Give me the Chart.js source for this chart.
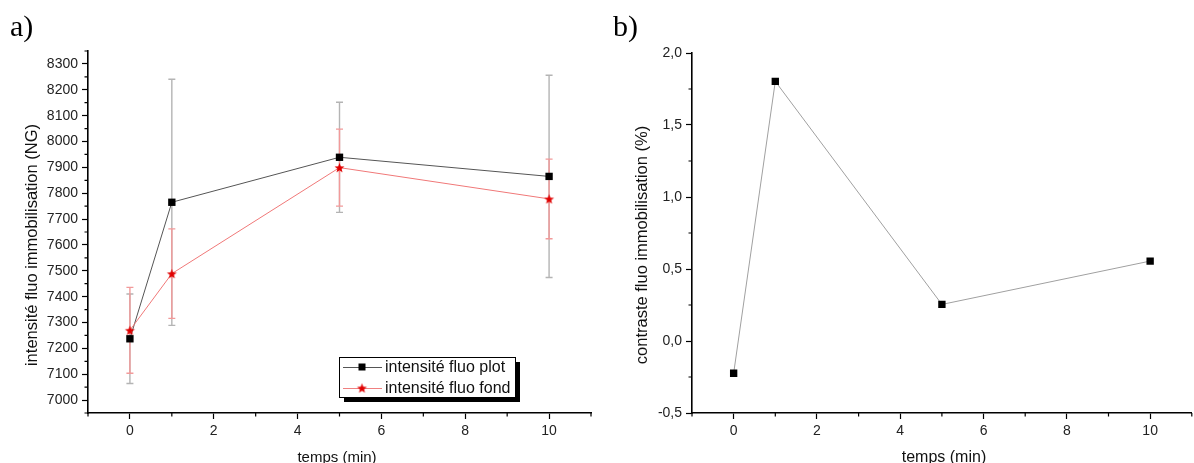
<!DOCTYPE html>
<html><head><meta charset="utf-8">
<script src="https://cdn.jsdelivr.net/npm/chart.js@4.4.0/dist/chart.umd.min.js"></script>
<style>
html,body{margin:0;padding:0;background:#fff;overflow:hidden;width:1194px;height:463px;position:relative;}
#wrapA{position:absolute;left:0;top:0;width:597px;height:463px;}
#wrapB{position:absolute;left:597px;top:0;width:600px;height:463px;}
.lab{position:absolute;font-family:"Liberation Serif","Times New Roman",serif;font-size:30px;line-height:30px;color:#000;z-index:5;}
</style></head><body>
<div id="wrapA"><canvas id="cA" width="597" height="463"></canvas></div>
<div id="wrapB"><canvas id="cB" width="600" height="463"></canvas></div>
<div class="lab" style="left:10px;top:11px">a)</div>
<div class="lab" style="left:613px;top:11px">b)</div>
<script>
// ---- data ----
const times = [0, 1, 5, 10];
const plotVals = [7237, 7765, 7939, 7865];
const plotErr = [173, 476, 213, 391];
const fondVals = [7270, 7489, 7899, 7778];
const fondErr = [166, 173, 149, 154];
const contrastVals = [-0.224, 1.803, 0.254, 0.555];
const xTickVals = [0, 2, 4, 6, 8, 10];
const xMinorVals = [-1, 1, 3, 5, 7, 9, 11];
const leftYTickVals = [7000, 7100, 7200, 7300, 7400, 7500, 7600, 7700, 7800, 7900, 8000, 8100, 8200, 8300];
const leftYMinorVals = [6950, 7050, 7150, 7250, 7350, 7450, 7550, 7650, 7750, 7850, 7950, 8050, 8150, 8250, 8350];
const rightYTickVals = [-0.5, 0, 0.5, 1, 1.5, 2];
const rightYMinorVals = [-0.25, 0.25, 0.75, 1.25, 1.75];
const legendLabels = ['intensité fluo plot', 'intensité fluo fond'];
const leftYTitle = 'intensité fluo immobilisation (NG)';
const rightYTitle = 'contraste fluo immobilisation (%)';
const xTitle = 'temps (min)';

Chart.defaults.font.family = "'Liberation Sans', Arial, sans-serif";
Chart.defaults.color = '#222';

function makeStar(r, color) {
  const s = Math.ceil(r * 2) + 2;
  const c = document.createElement('canvas');
  c.width = s; c.height = s;
  const g = c.getContext('2d');
  g.fillStyle = color;
  g.beginPath();
  for (let i = 0; i < 10; i++) {
    const rad = i % 2 ? r * 0.42 : r;
    const a = -Math.PI / 2 + i * Math.PI / 5;
    g.lineTo(s / 2 + rad * Math.cos(a), s / 2 + 0.5 + rad * Math.sin(a));
  }
  g.closePath();
  g.fill();
  return c;
}
const starImg = makeStar(5.2, '#e00000');

function xScaleOpts() {
  return {
    type: 'linear', min: -1, max: 11,
    afterBuildTicks: s => { s.ticks = xTickVals.map(v => ({ value: v })); },
    afterFit: s => { s.height = 50; },
    ticks: { autoSkip: false, maxRotation: 0, padding: 4, font: { size: 14 }, color: '#222',
      callback: v => String(v) },
    grid: { display: true, drawOnChartArea: false, drawTicks: true, tickLength: 6, tickColor: '#000', tickWidth: 1.2 },
    border: { display: true, color: '#000', width: 1.6 }
  };
}

function minorTicksPlugin(yMinor) {
  return {
    id: 'minorTicks',
    afterDraw(chart) {
      const ctx = chart.ctx, xs = chart.scales.x, ys = chart.scales.y, a = chart.chartArea;
      ctx.save();
      ctx.strokeStyle = '#000'; ctx.lineWidth = 1.2;
      ctx.beginPath();
      xMinorVals.forEach(v => {
        const px = xs.getPixelForValue(v);
        if (px < a.left - 0.5 || px > a.right + 0.5) return;
        ctx.moveTo(px, a.bottom); ctx.lineTo(px, a.bottom + 3.5);
      });
      yMinor.forEach(v => {
        const py = ys.getPixelForValue(v);
        if (py < a.top - 0.5 || py > a.bottom + 0.5) return;
        ctx.moveTo(a.left, py); ctx.lineTo(a.left - 3.5, py);
      });
      ctx.stroke();
      ctx.restore();
    }
  };
}

function titlesPlugin(yTitle, yX, xTitleCx, xSize) {
  return {
    id: 'titles',
    afterDraw(chart) {
      const ctx = chart.ctx;
      ctx.save();
      ctx.fillStyle = '#111';
      ctx.textAlign = 'center';
      ctx.textBaseline = 'alphabetic';
      ctx.font = "16.5px 'Liberation Sans', Arial, sans-serif";
      ctx.save();
      ctx.translate(yX, 245);
      ctx.rotate(-Math.PI / 2);
      ctx.fillText(yTitle, 0, 0);
      ctx.restore();
      ctx.font = xSize + "px 'Liberation Sans', Arial, sans-serif";
      ctx.fillText(xTitle, xTitleCx, 462);
      ctx.restore();
    }
  };
}

const errorBarsPlugin = {
  id: 'errorBars',
  beforeDatasetsDraw(chart) {
    const ctx = chart.ctx, xs = chart.scales.x, ys = chart.scales.y;
    const specs = [
      { vals: plotVals, errs: plotErr, color: '#b4b4b4' },
      { vals: fondVals, errs: fondErr, color: '#f29a9a' }
    ];
    ctx.save();
    specs.forEach(sp => {
      ctx.strokeStyle = sp.color; ctx.lineWidth = 1.4;
      ctx.beginPath();
      times.forEach((t, i) => {
        const px = xs.getPixelForValue(t);
        const top = ys.getPixelForValue(sp.vals[i] + sp.errs[i]);
        const bot = ys.getPixelForValue(sp.vals[i] - sp.errs[i]);
        ctx.moveTo(px, top); ctx.lineTo(px, bot);
        ctx.moveTo(px - 3.5, top); ctx.lineTo(px + 3.5, top);
        ctx.moveTo(px - 3.5, bot); ctx.lineTo(px + 3.5, bot);
      });
      ctx.stroke();
    });
    ctx.restore();
  }
};

const legendPlugin = {
  id: 'customLegend',
  afterDraw(chart) {
    const ctx = chart.ctx;
    const x = 339, y = 357, w = 176, h = 40;
    ctx.save();
    ctx.fillStyle = '#000';
    ctx.fillRect(x + 5, y + 5, w, h);
    ctx.fillStyle = '#fff';
    ctx.fillRect(x, y, w, h);
    ctx.strokeStyle = '#000'; ctx.lineWidth = 1;
    ctx.strokeRect(x + 0.5, y + 0.5, w, h);
    const rows = [
      { ly: 367, color: '#555', type: 'sq', label: legendLabels[0] },
      { ly: 388, color: '#f08080', type: 'star', label: legendLabels[1] }
    ];
    ctx.font = "16px 'Liberation Sans', Arial, sans-serif";
    ctx.textBaseline = 'middle';
    ctx.textAlign = 'left';
    rows.forEach(r => {
      ctx.strokeStyle = r.color; ctx.lineWidth = 1;
      ctx.beginPath(); ctx.moveTo(343, r.ly + 0.5); ctx.lineTo(382, r.ly + 0.5); ctx.stroke();
      if (r.type === 'sq') { ctx.fillStyle = '#000'; ctx.fillRect(362 - 3.5, r.ly - 3.5, 7, 7); }
      else { ctx.drawImage(starImg, 362 - starImg.width / 2, r.ly - starImg.height / 2); }
      ctx.fillStyle = '#111';
      ctx.fillText(r.label, 385, r.ly + 1);
    });
    ctx.restore();
  }
};

// ---- left chart ----
new Chart(document.getElementById('cA'), {
  type: 'line',
  data: {
    datasets: [
      { label: legendLabels[0], data: times.map((t, i) => ({ x: t, y: plotVals[i] })),
        borderColor: '#555', borderWidth: 1, pointStyle: 'rect', pointRadius: 5.2,
        pointBackgroundColor: '#000', pointBorderColor: '#000', pointBorderWidth: 0, order: 1, tension: 0 },
      { label: legendLabels[1], data: times.map((t, i) => ({ x: t, y: fondVals[i] })),
        borderColor: '#f07878', borderWidth: 1, pointStyle: starImg, pointRadius: 5,
        order: 0, tension: 0 }
    ]
  },
  options: {
    responsive: false, animation: false,
    layout: { padding: { left: 0, right: 4, top: 51, bottom: 0 } },
    plugins: { legend: { display: false }, tooltip: { enabled: false } },
    scales: {
      x: xScaleOpts(),
      y: {
        type: 'linear', min: 6950, max: 8350,
        afterBuildTicks: s => { s.ticks = leftYTickVals.map(v => ({ value: v })); },
        afterFit: s => { s.width = 88; },
        ticks: { autoSkip: false, padding: 4, font: { size: 14 }, color: '#222', callback: v => String(v) },
        grid: { display: true, drawOnChartArea: false, drawTicks: true, tickLength: 6, tickColor: '#000', tickWidth: 1.2 },
        border: { display: true, color: '#000', width: 1.6 }
      }
    }
  },
  plugins: [errorBarsPlugin, minorTicksPlugin(leftYMinorVals), titlesPlugin(leftYTitle, 36.5, 337, 15), legendPlugin]
});

// ---- right chart ----
new Chart(document.getElementById('cB'), {
  type: 'line',
  data: {
    datasets: [
      { label: 'contraste', data: times.map((t, i) => ({ x: t, y: contrastVals[i] })),
        borderColor: '#a0a0a0', borderWidth: 1, pointStyle: 'rect', pointRadius: 5.2,
        pointBackgroundColor: '#000', pointBorderColor: '#000', pointBorderWidth: 0, tension: 0 }
    ]
  },
  options: {
    responsive: false, animation: false,
    layout: { padding: { left: 0, right: 0, top: 53, bottom: 0 } },
    plugins: { legend: { display: false }, tooltip: { enabled: false } },
    scales: {
      x: xScaleOpts(),
      y: {
        type: 'linear', min: -0.5, max: 2.0,
        afterBuildTicks: s => { s.ticks = rightYTickVals.map(v => ({ value: v })); },
        afterFit: s => { s.width = 95; },
        ticks: { autoSkip: false, padding: 4, font: { size: 14 }, color: '#222',
          callback: v => Number(v).toFixed(1).replace('.', ',') },
        grid: { display: true, drawOnChartArea: false, drawTicks: true, tickLength: 6, tickColor: '#000', tickWidth: 1.2 },
        border: { display: true, color: '#000', width: 1.6 }
      }
    }
  },
  plugins: [minorTicksPlugin(rightYMinorVals), titlesPlugin(rightYTitle, 50, 347, 16)]
});
</script>
</body></html>
